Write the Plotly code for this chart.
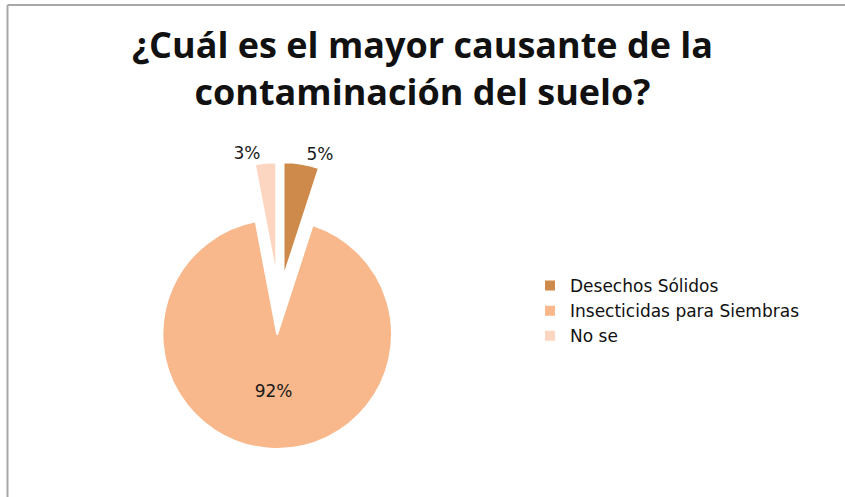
import plotly.graph_objects as go

labels = ["Desechos Sólidos", "Insecticidas para Siembras", "No se"]
values = [5, 92, 3]
colors = ["#CD8A4B", "#F9B88B", "#FDD6C2"]
pulls = [0.25, 0.25, 0.25]
text_pos = ["outside", "inside", "outside"]

# figure slightly wider than the 845px window; the overflow is hidden
W, H = 852, 497

def px_x(x):
    return x / W

def px_y(y):
    return 1 - y / H

TITLE_FONT = "Open Sans, sans-serif"
BODY_FONT = "DejaVu Sans, sans-serif"
FRAME = dict(color="#A8A8A8", width=2)

fig = go.Figure(go.Pie(
    labels=labels,
    values=values,
    sort=False,
    direction="clockwise",
    rotation=0,
    pull=pulls,
    marker=dict(colors=colors, line=dict(color="white", width=2)),
    textinfo="percent",
    texttemplate="%{percent:.0%}",
    textposition=text_pos,
    insidetextorientation="horizontal",
    textfont=dict(family=BODY_FONT, size=17, color="#1a1a1a"),
    domain=dict(x=[px_x(135), px_x(423)], y=[px_y(449), px_y(162)]),
    hoverinfo="label+percent",
))

fig.update_layout(
    width=W, height=H,
    margin=dict(l=0, r=0, t=0, b=0, autoexpand=False),
    paper_bgcolor="white",
    plot_bgcolor="white",
    title=dict(
        text="<b>¿Cuál es el mayor causante de la<br>contaminación del suelo?</b>",
        x=px_x(422.5), xanchor="center",
        y=px_y(58), yanchor="middle",
        font=dict(family=TITLE_FONT, size=36, color="#111111"),
    ),
    legend=dict(
        x=px_x(530), xanchor="left",
        y=px_y(311), yanchor="middle",
        font=dict(family=BODY_FONT, size=17, color="#111111"),
        itemwidth=30,
        bgcolor="rgba(0,0,0,0)",
    ),
    showlegend=True,
    shapes=[
        dict(type="line", xref="paper", yref="paper",
             x0=px_x(7.5), x1=1.0, y0=px_y(5), y1=px_y(5),
             line=FRAME, layer="above"),
        dict(type="line", xref="paper", yref="paper",
             x0=px_x(7.5), x1=px_x(7.5), y0=0.0, y1=px_y(5),
             line=FRAME, layer="above"),
    ],
)

fig.write_html(
    "out.html",
    config={"displayModeBar": False},
    post_script=(
        "document.documentElement.style.overflow='hidden';"
        "document.body.style.margin='0';"
        "document.body.style.overflow='hidden';"
        "window.scrollTo(0,0);"
    ),
)
